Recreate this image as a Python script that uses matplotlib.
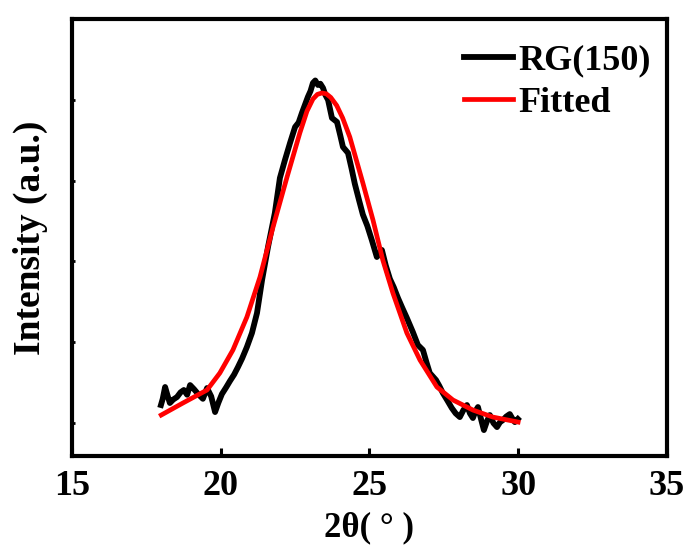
import numpy as np
import matplotlib
matplotlib.use("Agg")
import matplotlib.pyplot as plt

two_theta = [17.99, 18.05, 18.13, 18.22, 18.29, 18.40, 18.53, 18.65, 18.76, 18.87,
             18.97, 19.10, 19.24, 19.40, 19.54, 19.68, 19.81, 19.92, 20.04,
             20.18, 20.31, 20.45, 20.58, 20.72, 20.88, 21.05, 21.22, 21.39, 21.59,
             21.70, 21.82, 21.99, 22.16, 22.33, 22.50, 22.62, 22.73, 22.93, 23.02,
             23.10, 23.18, 23.27, 23.35, 23.44, 23.52, 23.61, 23.74, 23.91,
             24.02, 24.11, 24.28, 24.40, 24.51, 24.65, 24.78, 24.93, 25.08, 25.25,
             25.42, 25.55, 25.69, 25.82, 25.96, 26.10, 26.26, 26.46, 26.63, 26.80,
             26.92, 27.03, 27.24, 27.35, 27.47, 27.62, 27.77, 27.90, 28.04, 28.16,
             28.28, 28.38, 28.48, 28.57, 28.65, 28.76, 28.85, 28.95, 29.05, 29.17,
             29.29, 29.39, 29.49, 29.60, 29.72, 29.80, 29.89, 29.99]
intensity = [1223, 1300, 1446, 1330, 1248, 1290, 1322, 1380, 1409, 1350,
             1470, 1420, 1359, 1300, 1433, 1330, 1136, 1250, 1359,
             1440, 1520, 1600, 1693, 1800, 1941, 2114, 2362, 2770, 3179,
             3380, 3600, 4033, 4256, 4466, 4664, 4720, 4838, 5036, 5110,
             5209, 5240, 5184, 5200, 5147, 5060, 4999, 4776, 4726,
             4560, 4417, 4343, 4150, 3960, 3760, 3580, 3440, 3266, 3055,
             3142, 2950, 2783, 2680, 2548, 2430, 2300, 2127, 1966, 1904,
             1750, 1619, 1532, 1460, 1371, 1280, 1186, 1120, 1074, 1160,
             1223, 1120, 1062, 1150, 1198, 1040, 913, 1020, 1099, 1000,
             950, 1010, 1037, 1080, 1111, 1060, 1012, 1050]

# fitted peak
fit_theta = [18.0, 18.73, 19.54, 19.97, 20.41, 20.88, 21.32, 21.76, 22.23, 22.66,
             22.9, 23.1, 23.25, 23.4, 23.55, 23.7, 23.9, 24.1, 24.34, 24.78,
             25.12, 25.45, 25.79, 26.26, 26.70, 27.27, 27.81, 28.48, 29.15, 30.0]
fit_int = [1099, 1248, 1409, 1619, 1904, 2312, 2807, 3426, 4045, 4590,
           4860, 5010, 5068, 5085, 5075, 5030, 4930, 4776, 4541, 3971,
           3513, 3018, 2609, 2114, 1780, 1446, 1285, 1161, 1074, 1012]

plt.rcParams['font.family'] = ['Liberation Serif', 'DejaVu Serif']
plt.rcParams['font.weight'] = 'bold'

fig = plt.figure(figsize=(6.86, 5.45), dpi=100)
ax = fig.add_axes([0.105, 0.163, 0.867, 0.802])

ax.plot(two_theta, intensity, color='black', lw=4.2, solid_joinstyle='round', label='RG(150)')
ax.plot(fit_theta, fit_int, color='#ff0000', lw=3.4, label='Fitted')

ax.set_xlim(15, 35)
ax.set_ylim(590, 6000)
ax.set_xticks([15, 20, 25, 30, 35])
ax.set_yticks([1000, 2000, 3000, 4000, 5000])
ax.set_yticklabels([])

for s in ax.spines.values():
    s.set_linewidth(3)
ax.tick_params(axis='x', direction='in', length=6, width=2.2, labelsize=26, pad=10)
ax.tick_params(axis='y', direction='in', length=2, width=2)

ax.set_xlabel('2θ( ° )', fontsize=25, fontweight='bold', labelpad=6)
ax.set_ylabel('Intensity (a.u.)', fontsize=27, fontweight='bold', labelpad=14)

leg = ax.legend(loc='upper right', bbox_to_anchor=(1.015, 1.0), frameon=False,
                fontsize=26, handlelength=1.35, handletextpad=0.15,
                labelspacing=0.25, borderaxespad=0.3)
for t in leg.get_texts():
    t.set_fontweight('bold')

fig.savefig('out.png', dpi=100)
